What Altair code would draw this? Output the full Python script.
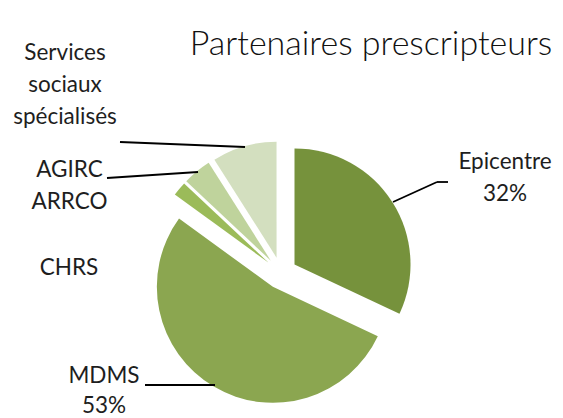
import altair as alt
import pandas as pd

# ---- data ----
categories = ["Epicentre", "MDMS", "CHRS", "AGIRC ARRCO", "Services sociaux spécialisés"]
shares = [32, 53, 2, 4, 9]
show_pct = [True, True, False, False, False]
label_lines = [["Epicentre"], ["MDMS"], ["CHRS"], ["AGIRC", "ARRCO"], ["Services", "sociaux", "spécialisés"]]
colors = ["#76923C", "#8BA650", "#9BBB59", "#BFD39C", "#D3DFBF"]
title_text = "Partenaires prescripteurs"

# ---- layout (chart pixel space; y is centre of first line) ----
W, H = 547, 410
CX, CY = 273, 265
R = 116
EXPLODE = 16
label_xy = [(497, 154), (96, 368), (61, 260), (61.5, 162), (57, 45)]
line_heights = [32, 30, 32, 32, 32]
leader_segments = [
    ((440, 174), (429, 174)),
    ((429, 174), (385, 194)),
    ((137, 377), (207, 377)),
    ((99, 170), (190, 164)),
    ((112, 134), (237, 139)),
]
TITLE_XY = (363, 47)

pie_df = pd.DataFrame({"cat": categories, "value": shares, "idx": list(range(len(categories)))})

pie = (
    alt.Chart(pie_df)
    .transform_joinaggregate(total="sum(value)")
    .transform_window(cum="sum(value)", sort=[alt.SortField("idx")], frame=[None, 0])
    .transform_calculate(
        t0="2*PI*(datum.cum - datum.value)/datum.total",
        t1="2*PI*datum.cum/datum.total",
    )
    .transform_calculate(mid="(datum.t0 + datum.t1)/2")
    .transform_calculate(
        px=f"{CX} + {EXPLODE}*sin(datum.mid)",
        py=f"{CY} - {EXPLODE}*cos(datum.mid)",
    )
    .mark_arc(radius=R)
    .encode(
        theta=alt.Theta("t0:Q", scale=None, stack=None),
        theta2="t1:Q",
        x=alt.X("px:Q", scale=None, axis=None),
        y=alt.Y("py:Q", scale=None, axis=None),
        color=alt.Color("cat:N", scale=alt.Scale(domain=categories, range=colors), legend=None),
    )
)

# one row per text line
rows = []
for lines, s, p, (lx, ly), lh in zip(label_lines, shares, show_pct, label_xy, line_heights):
    ls = list(lines) + ([f"{s}%"] if p else [])
    for i, t in enumerate(ls):
        rows.append({"text": t, "x": lx, "y": ly + i * lh})
lab_df = pd.DataFrame(rows)
labels = (
    alt.Chart(lab_df)
    .mark_text(font="Lato", fontSize=22.5, color="#1e1e1e", align="center", baseline="middle")
    .encode(x=alt.X("x:Q", scale=None, axis=None), y=alt.Y("y:Q", scale=None, axis=None), text="text:N")
)

seg_df = pd.DataFrame({
    "x": [a[0] for a, b in leader_segments],
    "y": [a[1] for a, b in leader_segments],
    "x2": [b[0] for a, b in leader_segments],
    "y2": [b[1] for a, b in leader_segments],
})
leaders = (
    alt.Chart(seg_df)
    .mark_rule(color="#000000", strokeWidth=1.8)
    .encode(x=alt.X("x:Q", scale=None, axis=None), y=alt.Y("y:Q", scale=None, axis=None), x2="x2:Q", y2="y2:Q")
)

title_df = pd.DataFrame({"text": [title_text], "x": [TITLE_XY[0]], "y": [TITLE_XY[1]]})
title = (
    alt.Chart(title_df)
    .mark_text(font="Lato", fontSize=34, fontWeight=300, color="#111111", align="center", baseline="alphabetic")
    .encode(x=alt.X("x:Q", scale=None, axis=None), y=alt.Y("y:Q", scale=None, axis=None), text="text:N")
)

chart = (
    alt.layer(pie, leaders, labels, title)
    .properties(width=W, height=H, autosize="none", padding=0, background="white")
    .configure_view(stroke=None)
)

chart.save("out.html", embed_options={"renderer": "svg", "actions": False})
